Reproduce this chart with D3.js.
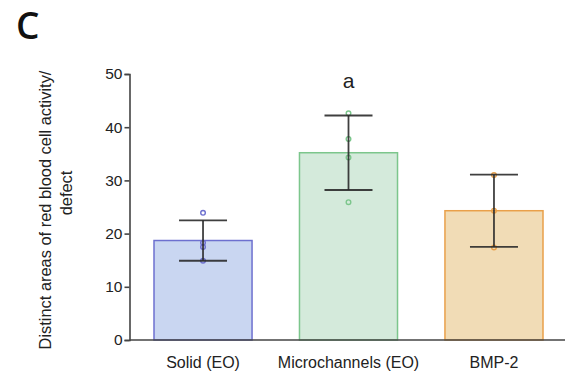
<!DOCTYPE html>
<html>
<head>
<meta charset="utf-8">
<script src="https://cdn.jsdelivr.net/npm/d3@7"></script>
<style>
  html, body { margin: 0; padding: 0; background: #fff; }
  svg { display: block; }
  text { font-family: "Liberation Sans", Arial, sans-serif; fill: #222; }
</style>
</head>
<body>
<svg id="chart" width="570" height="374"></svg>
<script>
// Group labels, means, standard deviations and individual measurements
const categories = ["Solid (EO)", "Microchannels (EO)", "BMP-2"];
const means = [18.7, 35.2, 24.3];
const sds = [3.8, 7.0, 6.8];
const solidPoints = [23.9, 18.3, 17.5, 14.9];
const microPoints = [42.6, 37.8, 34.3, 25.9];
const bmpPoints = [31.0, 24.3, 17.4];
const yTicks = [0, 10, 20, 30, 40, 50];
const sigLabels = ["", "a", ""];

const fills = ["#c9d6f1", "#d4eadb", "#f1dcb6"];
const strokes = ["#6d70cf", "#7cc68c", "#e9a04a"];
const pointSets = [solidPoints, microPoints, bmpPoints];

const svg = d3.select("#chart");

const y = d3.scaleLinear().domain([0, 50]).range([340, 74]);
const x = d3.scaleBand().domain(categories).range([154, 543]).paddingInner(0.326).paddingOuter(0);

// Panel letter
svg.append("text").attr("x", 16).attr("y", 39)
  .style("font-family", "'Open Sans', sans-serif").style("font-weight", 600)
  .style("font-size", "37px").style("fill", "#111").text("C");

// Bars
const bars = svg.append("g");
categories.forEach((c, i) => {
  bars.append("rect")
    .attr("x", x(c)).attr("y", y(means[i]))
    .attr("width", x.bandwidth()).attr("height", y(0) - y(means[i]))
    .attr("fill", fills[i]).attr("stroke", strokes[i]).attr("stroke-width", 1.5);
});

// Individual points
categories.forEach((c, i) => {
  const cx = x(c) + x.bandwidth() / 2;
  svg.append("g").selectAll("circle").data(pointSets[i]).join("circle")
    .attr("cx", cx).attr("cy", d => y(d)).attr("r", 2.3)
    .attr("fill", "none").attr("stroke", strokes[i]).attr("stroke-width", 1.4);
});

// Error bars (mean ± SD)
const capHalf = 24;
categories.forEach((c, i) => {
  const cx = x(c) + x.bandwidth() / 2;
  const g = svg.append("g").attr("stroke", "#2a2a2a").attr("stroke-width", 1.8).attr("stroke-opacity", 0.9);
  g.append("line").attr("x1", cx).attr("x2", cx).attr("y1", y(means[i] + sds[i])).attr("y2", y(means[i] - sds[i]));
  g.append("line").attr("x1", cx - capHalf).attr("x2", cx + capHalf).attr("y1", y(means[i] + sds[i])).attr("y2", y(means[i] + sds[i]));
  g.append("line").attr("x1", cx - capHalf).attr("x2", cx + capHalf).attr("y1", y(means[i] - sds[i])).attr("y2", y(means[i] - sds[i]));
  if (sigLabels[i]) {
    svg.append("text").attr("x", cx).attr("y", 88).attr("text-anchor", "middle")
      .style("font-size", "21px").style("fill", "#222").text(sigLabels[i]);
  }
});

// Y axis
const yAxis = svg.append("g").attr("transform", "translate(129.5,0)")
  .call(d3.axisLeft(y).tickValues(yTicks).tickSize(5).tickPadding(2).tickFormat(d3.format("d")));
yAxis.select(".domain").attr("stroke", "#444").attr("stroke-width", 1.6);
yAxis.selectAll(".tick line").attr("stroke", "#444").attr("stroke-width", 1.6);
yAxis.selectAll(".tick text").style("font-size", "15.5px").style("font-family", "'Liberation Sans', Arial, sans-serif").attr("fill", "#222");

// X axis baseline and category labels
const xAxis = svg.append("g").attr("transform", "translate(0,340)")
  .call(d3.axisBottom(x).tickSize(0).tickPadding(17));
xAxis.select(".domain").attr("d", "M129.5,0H565").attr("stroke", "#444").attr("stroke-width", 1.6);
xAxis.selectAll(".tick text").style("font-size", "16px").style("font-family", "'Liberation Sans', Arial, sans-serif").attr("fill", "#222");

// Y axis title
svg.append("text").attr("transform", "translate(51,210) rotate(-90)").attr("text-anchor", "middle")
  .style("font-size", "16.4px").text("Distinct areas of red blood cell activity/");
svg.append("text").attr("transform", "translate(72,193) rotate(-90)").attr("text-anchor", "middle")
  .style("font-size", "16.4px").text("defect");
</script>
</body>
</html>
